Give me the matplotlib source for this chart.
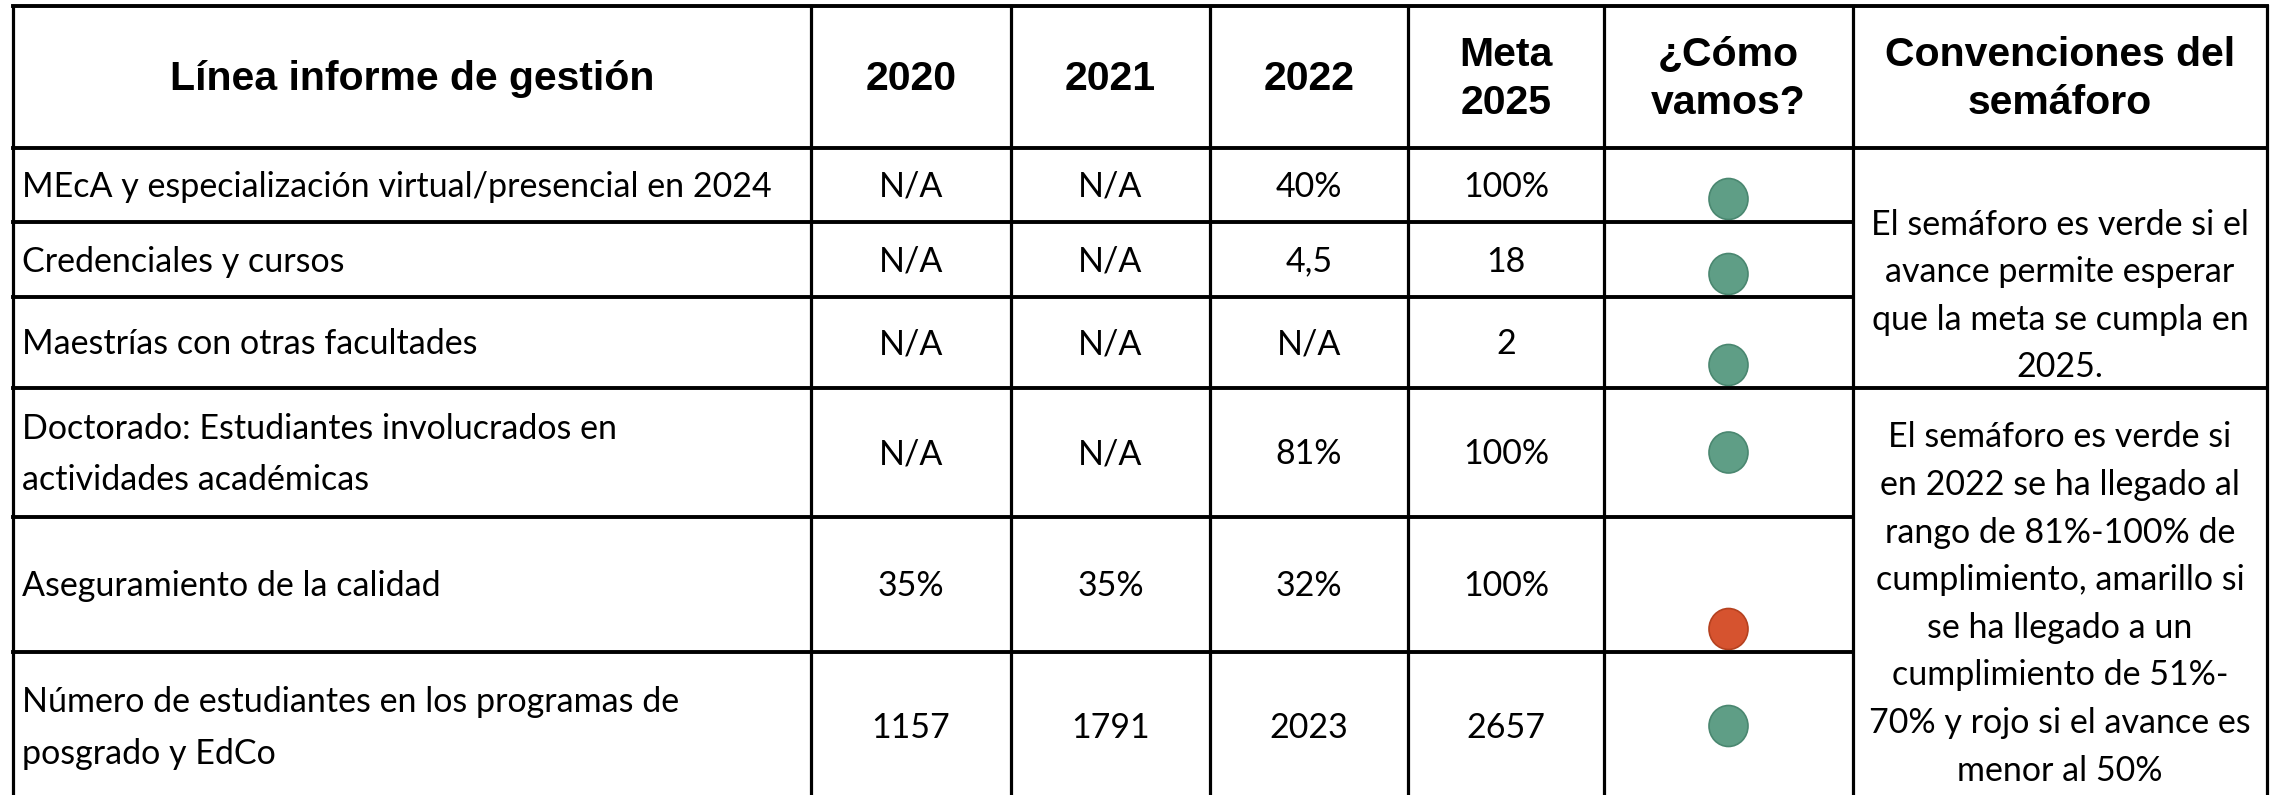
import matplotlib.pyplot as plt
from matplotlib.patches import Ellipse

# datos de la tabla
encabezados = ['Línea informe de gestión', '2020', '2021', '2022', 'Meta\n2025',
               '¿Cómo\nvamos?', 'Convenciones del\nsemáforo']
lineas = ['MEcA y especialización virtual/presencial en 2024',
          'Credenciales y cursos',
          'Maestrías con otras facultades',
          'Doctorado: Estudiantes involucrados en\nactividades académicas',
          'Aseguramiento de la calidad',
          'Número de estudiantes en los programas de\nposgrado y EdCo']
v2020 = ['N/A', 'N/A', 'N/A', 'N/A', '35%', '1157']
v2021 = ['N/A', 'N/A', 'N/A', 'N/A', '35%', '1791']
v2022 = ['40%', '4,5', 'N/A', '81%', '32%', '2023']
meta2025 = ['100%', '18', '2', '100%', '100%', '2657']
semaforo = ['verde', 'verde', 'verde', 'verde', 'rojo', 'verde']
convencion1 = 'El semáforo es verde si el\navance permite esperar\nque la meta se cumpla en\n2025.'
convencion2 = ('El semáforo es verde si\nen 2022 se ha llegado al\nrango de 81%-100% de\n'
               'cumplimiento, amarillo si\nse ha llegado a un\ncumplimiento de 51%-\n'
               '70% y rojo si el avance es\nmenor al 50%')

# geometria (pixeles)
cols = [13, 811, 1011, 1210, 1408, 1604, 1853, 2267]
filas = [6, 148, 222, 297, 388, 517, 652, 800]
pos_circulo = ['abajo', 'abajo', 'abajo', 'centro', 'abajo', 'centro']
colores = {'verde': ('#5F9E86', '#4A8770'), 'rojo': ('#D6532F', '#B5411F')}

fuente_cab = 'Liberation Sans'
fuente = 'Lato'

fig = plt.figure(figsize=(22.77, 7.95), dpi=100)
ax = fig.add_axes([0, 0, 1, 1])
ax.set_xlim(0, 2277)
ax.set_ylim(795, 0)
ax.axis('off')

lw = 2.3
# lineas verticales
for x in cols:
    ax.plot([x, x], [filas[0], filas[-1]], color='black', lw=lw, solid_capstyle='projecting')
# lineas horizontales
for i, y in enumerate(filas[:-1]):
    if i in (0, 1, 4):
        ax.plot([cols[0], cols[-1]], [y, y], color='black', lw=lw + 0.5, solid_capstyle='projecting')
    else:
        ax.plot([cols[0], cols[-2]], [y, y], color='black', lw=lw + 0.5, solid_capstyle='projecting')

# encabezado
yc = (filas[0] + filas[1]) / 2 + 2
for j, h in enumerate(encabezados):
    xc = (cols[j] + cols[j + 1]) / 2
    ax.text(xc, yc, h, ha='center', va='center', fontsize=29.5, fontweight='bold',
            family=fuente_cab, linespacing=1.3)

# cuerpo
for i in range(len(lineas)):
    y0, y1 = filas[i + 1], filas[i + 2]
    ym = (y0 + y1) / 2 + 2
    ax.text(cols[0] + 9, ym, lineas[i], ha='left', va='center', fontsize=24.5,
            family=fuente, linespacing=1.75)
    for j, v in enumerate([v2020[i], v2021[i], v2022[i], meta2025[i]]):
        xc = (cols[j + 1] + cols[j + 2]) / 2
        ax.text(xc, ym, v, ha='center', va='center', fontsize=24.5, family=fuente)
    # semaforo
    if pos_circulo[i] == 'abajo':
        yc_c = y1 - 23
    else:
        yc_c = (y0 + y1) / 2
    relleno, borde = colores[semaforo[i]]
    ax.add_patch(Ellipse(((cols[5] + cols[6]) / 2, yc_c), 39, 41, facecolor=relleno,
                         edgecolor=borde, lw=1.2))

# convenciones
xr = (cols[6] + cols[7]) / 2
ax.text(xr, 296, convencion1, ha='center', va='center', fontsize=24.5,
        family=fuente, linespacing=1.58)
ax.text(xr, 604, convencion2, ha='center', va='center', fontsize=24.5,
        family=fuente, linespacing=1.6)

plt.savefig('out.png', dpi=100)
